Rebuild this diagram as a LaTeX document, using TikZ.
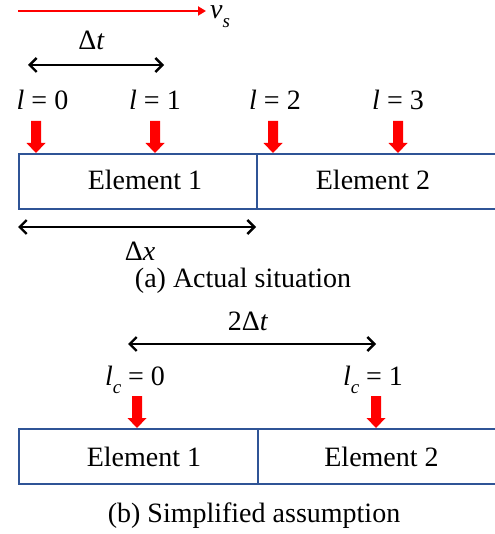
\documentclass[tikz,border=0pt]{standalone}
\usepackage{fontspec}
\setmainfont{Liberation Serif}
\usetikzlibrary{arrows.meta}
\definecolor{boxblue}{RGB}{47,84,150}
\newcommand{\lsubc}{\textit{l}\raisebox{-0.3em}{\fontsize{19}{19}\selectfont\textit{c}}}
\begin{document}
\begin{tikzpicture}[x=1pt,y=-1pt,
  txt/.style={font=\fontsize{28}{32}\selectfont, inner sep=0pt, anchor=base},
  elem/.style={draw=boxblue, line width=2pt, anchor=north west, minimum height=55pt, inner sep=0pt},
  dimarrow/.style={line width=2.4pt, {Straight Barb[length=7pt,width=14pt]}-{Straight Barb[length=7pt,width=14pt]}},
  velarrow/.style={draw=red, line width=2pt, -{Triangle[length=8pt,width=9pt]}},
  redmark/.pic={\fill[red] (-5,-32) -- (5,-32) -- (5,-10) -- (9.5,-10) -- (0,0) -- (-9.5,-10) -- (-5,-10) -- cycle;}]
\useasboundingbox (0,0) rectangle (494,534);

% velocity arrow
\coordinate (vs0) at (18,11);
\node[txt] (vs) at (220,19) {\textit{v}\raisebox{-0.3em}{\fontsize{19}{19}\selectfont\textit{s}}};
\coordinate (vs1) at (206,11);
\draw[velarrow] (vs0) -- (vs1);

% Delta t
\node[txt] (dt) at (91.5,50) {Δ\textit{t}};
\coordinate (dta) at (28,65);
\coordinate (dtb) at (164,65);
\draw[dimarrow] (dta) -- (dtb);

% l labels
\node[txt] (l0) at (42.5,110) {\textit{l} = 0};
\node[txt] (l1) at (155,110) {\textit{l} = 1};
\node[txt] (l2) at (275,110) {\textit{l} = 2};
\node[txt] (l3) at (398,110) {\textit{l} = 3};

% elements (a)
\node[elem, minimum width=238pt] (e1) at (18,153) {};
\node[elem, minimum width=240pt] (e2) at (256,153) {};
\node[txt] (t1) at (145,190) {Element 1};
\node[txt] (t2) at (373,190) {Element 2};

\pic at (36,153) {redmark};
\pic at (155,153) {redmark};
\pic at (273,153) {redmark};
\pic at (398,153) {redmark};

% Delta x
\coordinate (dxa) at (18,227);
\coordinate (dxb) at (256,227);
\draw[dimarrow] (dxa) -- (dxb);
\node[txt] (dx) at (140,260) {Δ\textit{x}};
\node[txt] (capa) at (243,287) {(a) Actual situation};

% (b)
\node[txt] (tdt) at (248,330) {2Δ\textit{t}};
\coordinate (tda) at (128,344);
\coordinate (tdb) at (376,344);
\draw[dimarrow] (tda) -- (tdb);

\node[txt] (lc0) at (135,385) {\lsubc{} = 0};
\node[txt] (lc1) at (373,385) {\lsubc{} = 1};

\node[elem, minimum width=239pt] (f1) at (18,428) {};
\node[elem, minimum width=240pt] (f2) at (257,428) {};
\node[txt] (u1) at (144,466) {Element 1};
\node[txt] (u2) at (381.5,466) {Element 2};

\pic at (137,428) {redmark};
\pic at (376,428) {redmark};

\node[txt] (capb) at (254,522) {(b) Simplified assumption};
\end{tikzpicture}
\end{document}
